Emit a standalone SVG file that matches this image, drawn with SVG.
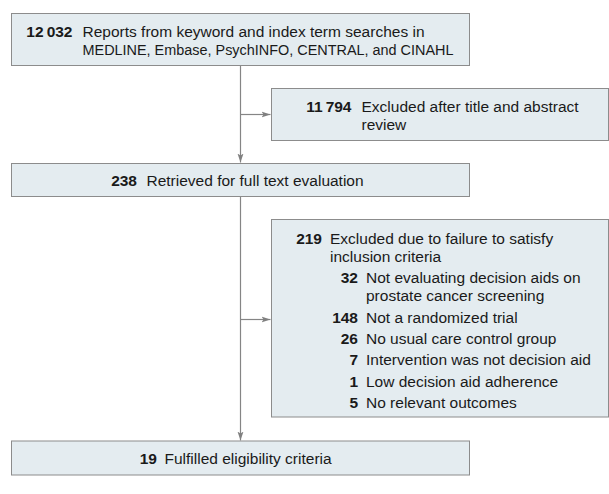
<svg xmlns="http://www.w3.org/2000/svg" width="609" height="494" viewBox="0 0 609 494">
<defs>
<style>
.box{fill:#e4ecf0;stroke:#8c8c8c;stroke-width:1}
.t{font-family:"Liberation Sans",Arial,sans-serif;font-size:15.5px;fill:#1a1a1a}
.n{font-family:"Liberation Sans",Arial,sans-serif;font-size:15.5px;font-weight:bold;fill:#1a1a1a;text-anchor:end}
.c{fill:none;stroke:#858585;stroke-width:1.2}
</style>
<marker id="ah" markerUnits="userSpaceOnUse" markerWidth="10" markerHeight="8" refX="9" refY="4" orient="auto">
<path d="M0,1 L9,4 L0,7 L2,4 Z" fill="#808080"/>
</marker>
</defs>
<rect width="609" height="494" fill="#ffffff"/>
<g id="connectors">
<path class="c" d="M240.5,65.5 V162.5" marker-end="url(#ah)"/>
<path class="c" d="M240.5,114.5 H270.5" marker-end="url(#ah)"/>
<path class="c" d="M240.5,197 V440.5" marker-end="url(#ah)"/>
<path class="c" d="M240.5,319.5 H270.5" marker-end="url(#ah)"/>
</g>
<g id="n12032">
<rect class="box" x="11.5" y="13.5" width="458" height="52"/>
<text class="n" x="72.5" y="36.5">12&#8201;032</text>
<text class="t" x="82.5" y="36.5">Reports from keyword and index term searches in</text>
<text class="t" x="82.5" y="54.5" textLength="371" lengthAdjust="spacingAndGlyphs">MEDLINE, Embase, PsychINFO, CENTRAL, and CINAHL</text>
</g>
<g id="n11794">
<rect class="box" x="271.5" y="88.5" width="337" height="52"/>
<text class="n" x="351.5" y="111.5">11&#8201;794</text>
<text class="t" x="361.5" y="111.5">Excluded after title and abstract</text>
<text class="t" x="361.5" y="129.5">review</text>
</g>
<g id="n238">
<rect class="box" x="11.5" y="163.5" width="458" height="33"/>
<text class="n" x="137" y="185.5">238</text>
<text class="t" x="146.5" y="185.5">Retrieved for full text evaluation</text>
</g>
<g id="n219">
<rect class="box" x="271.5" y="219.5" width="337" height="197.5"/>
<text class="n" x="322" y="243.5">219</text>
<text class="t" x="330" y="243.5">Excluded due to failure to satisfy</text>
<text class="t" x="330" y="261.5">inclusion criteria</text>
<text class="n" x="358" y="283">32</text>
<text class="t" x="366" y="283">Not evaluating decision aids on</text>
<text class="t" x="366" y="301">prostate cancer screening</text>
<text class="n" x="358" y="322.5">148</text>
<text class="t" x="366" y="322.5">Not a randomized trial</text>
<text class="n" x="358" y="343.5">26</text>
<text class="t" x="366" y="343.5">No usual care control group</text>
<text class="n" x="358" y="365">7</text>
<text class="t" x="366" y="365">Intervention was not decision aid</text>
<text class="n" x="358" y="386.5">1</text>
<text class="t" x="366" y="386.5">Low decision aid adherence</text>
<text class="n" x="358" y="408">5</text>
<text class="t" x="366" y="408">No relevant outcomes</text>
</g>
<g id="n19">
<rect class="box" x="11.5" y="441" width="458" height="34"/>
<text class="n" x="157" y="463.5">19</text>
<text class="t" x="164.5" y="463.5">Fulfilled eligibility criteria</text>
</g>
</svg>
